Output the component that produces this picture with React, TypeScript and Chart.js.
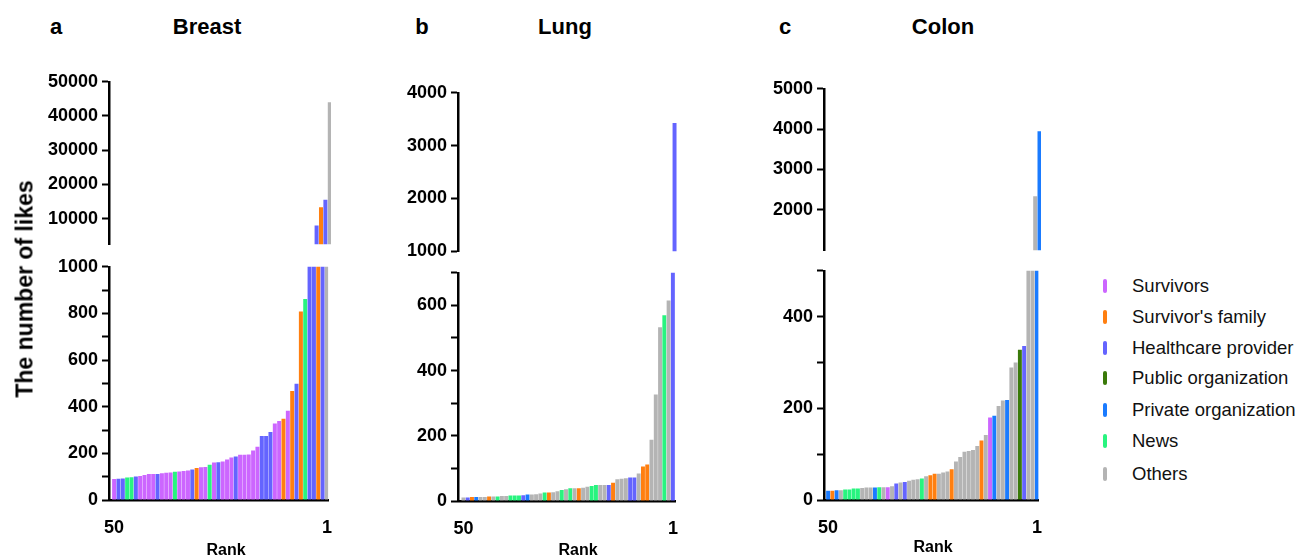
import React, { useEffect, useRef } from 'react';
import { Chart, registerables } from 'chart.js';

Chart.register(...registerables);
Chart.defaults.font.family = '"Liberation Sans", Arial, sans-serif';
Chart.defaults.color = '#000';

// ---------- DATA ----------
const ranks = [50, 49, 48, 47, 46, 45, 44, 43, 42, 41, 40, 39, 38, 37, 36, 35, 34, 33, 32, 31, 30, 29, 28, 27, 26, 25, 24, 23, 22, 21, 20, 19, 18, 17, 16, 15, 14, 13, 12, 11, 10, 9, 8, 7, 6, 5, 4, 3, 2, 1];

// S = Survivors, F = Survivor's family, H = Healthcare provider, U = Public organization,
// P = Private organization, N = News, O = Others
const breastLikes = [90, 91, 92, 97, 98, 101, 103, 107, 111, 112, 112, 115, 117, 118, 121, 122, 124, 127, 131, 137, 140, 141, 151, 161, 162, 165, 174, 182, 187, 194, 194, 195, 212, 228, 274, 274, 292, 328, 339, 348, 383, 467, 499, 808, 862, 1200, 8000, 13300, 15500, 44000];
const breastTypes = ['S', 'H', 'H', 'N', 'N', 'H', 'S', 'S', 'S', 'S', 'H', 'S', 'S', 'S', 'N', 'S', 'S', 'S', 'H', 'F', 'S', 'S', 'N', 'S', 'H', 'S', 'S', 'S', 'H', 'S', 'S', 'S', 'S', 'S', 'H', 'H', 'H', 'S', 'S', 'F', 'S', 'F', 'H', 'F', 'N', 'H', 'H', 'F', 'H', 'O'];

const lungLikes = [11, 11, 12, 12, 12, 12, 14, 14, 14, 15, 15, 17, 17, 17, 18, 20, 20, 21, 23, 26, 26, 27, 30, 34, 36, 39, 39, 39, 41, 44, 46, 49, 49, 49, 49, 56, 67, 68, 70, 72, 72, 84, 106, 112, 188, 327, 533, 570, 615, 3430];
const lungTypes = ['O', 'H', 'F', 'P', 'O', 'O', 'F', 'O', 'N', 'O', 'O', 'N', 'N', 'N', 'H', 'P', 'O', 'O', 'O', 'N', 'F', 'O', 'O', 'N', 'O', 'N', 'O', 'F', 'O', 'O', 'N', 'N', 'O', 'O', 'H', 'F', 'O', 'O', 'O', 'H', 'H', 'O', 'F', 'F', 'O', 'O', 'O', 'N', 'O', 'H'];

const colonLikes = [20, 20, 21, 21, 23, 23, 25, 25, 26, 27, 27, 27, 28, 28, 28, 30, 36, 38, 39, 42, 44, 45, 47, 52, 54, 57, 57, 60, 62, 67, 84, 94, 105, 107, 109, 118, 130, 142, 180, 184, 205, 217, 218, 289, 300, 328, 336, 700, 2340, 3950];
const colonTypes = ['P', 'F', 'P', 'O', 'N', 'N', 'N', 'N', 'O', 'O', 'O', 'P', 'N', 'O', 'S', 'O', 'H', 'O', 'H', 'O', 'O', 'O', 'N', 'O', 'F', 'F', 'O', 'O', 'O', 'F', 'O', 'O', 'O', 'O', 'O', 'O', 'F', 'O', 'S', 'P', 'O', 'O', 'P', 'O', 'O', 'U', 'H', 'O', 'O', 'P'];

const xTickRanks = [50, 1];

const breastLowTicks = [0, 100, 200, 300, 400, 500, 600, 700, 800, 900, 1000];
const breastLowLabels = [0, 200, 400, 600, 800, 1000];
const breastHighTicks = [10000, 20000, 30000, 40000, 50000];
const lungLowTicks = [0, 100, 200, 300, 400, 500, 600, 700];
const lungLowLabels = [0, 200, 400, 600];
const lungHighTicks = [1000, 2000, 3000, 4000];
const colonLowTicks = [0, 100, 200, 300, 400, 500];
const colonLowLabels = [0, 200, 400];
const colonHighTicks = [2000, 3000, 4000, 5000];

const legendCodes = ['S', 'F', 'H', 'U', 'P', 'N', 'O'];
const legendLabels = ['Survivors', "Survivor's family", 'Healthcare provider', 'Public organization', 'Private organization', 'News', 'Others'];

// ---------- STYLE ----------
const PALETTE: Record<string, string> = {
  S: '#CC66FF',
  F: '#FF7F10',
  H: '#6464FF',
  U: '#3A7A0A',
  P: '#1A7BFF',
  N: '#28F47F',
  O: '#B4B4B4',
};

const FONT = '"Liberation Sans", Arial, sans-serif';
const Y_W = 80;
const PAD_TOP = 14;
const PAD_RIGHT = 10;
const PAGE_H = 559;
const TICK_FONT = 18;

type Part = { min: number; max: number; top: number; bottom: number; ticks: number[]; labels: number[] };
type Panel = {
  letter: string; title: string; values: number[]; types: string[];
  axisX: number; rightX: number; xLeft: number; xRight: number;
  low: Part; high: Part; titleX: number; letterX: number; rankX: number; rankY: number;
};

const panels: Panel[] = [
  {
    letter: 'a', title: 'Breast', values: breastLikes, types: breastTypes,
    axisX: 109, rightX: 331, xLeft: 51.18, xRight: 0.73,
    low: { min: 0, max: 1000, top: 266, bottom: 500, ticks: breastLowTicks, labels: breastLowLabels },
    high: { min: 2500, max: 50000, top: 81, bottom: 245, ticks: breastHighTicks, labels: breastHighTicks },
    titleX: 207, letterX: 56, rankX: 226, rankY: 550,
  },
  {
    letter: 'b', title: 'Lung', values: lungLikes, types: lungTypes,
    axisX: 458, rightX: 677, xLeft: 51.27, xRight: 0.43,
    low: { min: 0, max: 700, top: 272, bottom: 501, ticks: lungLowTicks, labels: lungLowLabels },
    high: { min: 1000, max: 4000, top: 92, bottom: 252, ticks: lungHighTicks, labels: lungHighTicks },
    titleX: 565, letterX: 422, rankX: 578, rankY: 550,
  },
  {
    letter: 'c', title: 'Colon', values: colonLikes, types: colonTypes,
    axisX: 824, rightX: 1041, xLeft: 50.96, xRight: 0.65,
    low: { min: 0, max: 500, top: 270, bottom: 500, ticks: colonLowTicks, labels: colonLowLabels },
    high: { min: 1000, max: 5000, top: 88, bottom: 251, ticks: colonHighTicks, labels: colonHighTicks },
    titleX: 943, letterX: 785, rankX: 933, rankY: 547,
  },
];

function SubChart({ panel, part, showX }: { panel: Panel; part: Part; showX: boolean }) {
  const ref = useRef<HTMLCanvasElement | null>(null);
  const canvasTop = part.top - PAD_TOP;
  const height = showX ? PAGE_H - canvasTop : part.bottom - part.top + PAD_TOP * 2;
  const left = panel.axisX - Y_W;
  const width = Y_W + (panel.rightX - panel.axisX) + PAD_RIGHT;
  const xH = PAGE_H - part.bottom;

  useEffect(() => {
    if (!ref.current) return;
    const chart = new Chart(ref.current, {
      type: 'bar',
      data: {
        labels: ranks,
        datasets: [
          {
            data: panel.values,
            backgroundColor: panel.types.map((t) => PALETTE[t]),
            borderWidth: 0,
            barPercentage: 0.92,
            categoryPercentage: 1,
            clip: 0,
          } as any,
        ],
      },
      options: {
        responsive: false,
        animation: false,
        events: [],
        layout: { padding: { top: PAD_TOP, right: PAD_RIGHT, bottom: showX ? 0 : PAD_TOP, left: 0 } },
        plugins: { legend: { display: false }, tooltip: { enabled: false } },
        scales: {
          x: {
            type: 'linear',
            display: showX,
            reverse: true,
            offset: false,
            bounds: 'data',
            min: panel.xRight,
            max: panel.xLeft,
            afterBuildTicks: (s: any) => {
              s.ticks = xTickRanks.map((v) => ({ value: v }));
            },
            afterFit: (s: any) => {
              if (showX) s.height = xH;
            },
            grid: { display: false, offset: false },
            border: { display: true, color: '#000', width: 2.5 },
            ticks: {
              autoSkip: false,
              maxRotation: 0,
              padding: 9,
              color: '#000',
              font: { size: TICK_FONT, weight: 'bold', family: FONT },
              callback: (v: any) => String(v),
            },
          },
          y: {
            type: 'linear',
            min: part.min,
            max: part.max,
            afterBuildTicks: (s: any) => {
              s.ticks = part.ticks.map((v) => ({ value: v }));
            },
            afterFit: (s: any) => {
              s.width = Y_W;
            },
            grid: {
              display: true,
              drawOnChartArea: false,
              drawTicks: true,
              tickLength: 7,
              tickWidth: 2,
              tickColor: '#000',
            },
            border: { display: true, color: '#000', width: 2.5 },
            ticks: {
              autoSkip: false,
              padding: 4,
              color: '#000',
              font: { size: TICK_FONT, weight: 'bold', family: FONT },
              callback: (v: any) => (part.labels.indexOf(Number(v)) >= 0 ? String(v) : ''),
            },
          },
        },
      } as any,
    });
    return () => chart.destroy();
  }, []);

  return (
    <div style={{ position: 'absolute', left, top: canvasTop, width, height }}>
      <canvas ref={ref} width={width} height={height} style={{ width, height, display: 'block' }} />
    </div>
  );
}

function Txt({ x, y, size, bold, rotate, children }: any) {
  return (
    <div
      style={{
        position: 'absolute',
        left: x,
        top: y,
        transform: `translate(-50%, -50%)${rotate ? ' rotate(-90deg)' : ''}`,
        font: `${bold ? 'bold ' : ''}${size}px ${FONT}`,
        lineHeight: 1,
        whiteSpace: 'nowrap',
        color: '#000',
      }}
    >
      {children}
    </div>
  );
}

const legendRowY = [286, 317, 348, 378, 410, 441, 474];

export default function App() {
  return (
    <div style={{ position: 'absolute', left: 0, top: 0, width: 1295, height: 559, background: '#fff', overflow: 'hidden' }}>
      {panels.map((p) => (
        <React.Fragment key={p.title}>
          <SubChart panel={p} part={p.high} showX={false} />
          <SubChart panel={p} part={p.low} showX={true} />
          <Txt x={p.letterX} y={27} size={22} bold>{p.letter}</Txt>
          <Txt x={p.titleX} y={27} size={22} bold>{p.title}</Txt>
          <Txt x={p.rankX} y={p.rankY} size={16} bold>Rank</Txt>
        </React.Fragment>
      ))}
      <Txt x={25} y={289} size={23} bold rotate>The number of likes</Txt>
      {legendCodes.map((c, i) => (
        <React.Fragment key={c}>
          <div
            style={{
              position: 'absolute',
              left: 1103,
              top: legendRowY[i] - 7,
              width: 4,
              height: 14,
              borderRadius: 2,
              background: PALETTE[c],
            }}
          />
          <div
            style={{
              position: 'absolute',
              left: 1132,
              top: legendRowY[i],
              transform: 'translateY(-50%)',
              font: `18.5px ${FONT}`,
              lineHeight: 1,
              whiteSpace: 'nowrap',
              color: '#111',
            }}
          >
            {legendLabels[i]}
          </div>
        </React.Fragment>
      ))}
    </div>
  );
}
